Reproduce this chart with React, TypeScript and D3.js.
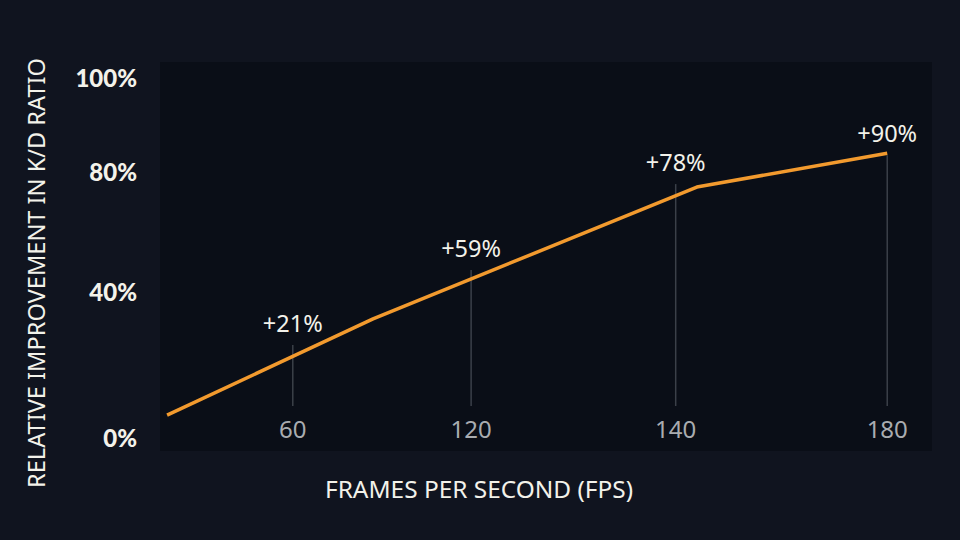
import React from "react";
import * as d3 from "d3";

// ---- data ----
const fpsTicks = [60, 120, 140, 180];
const yTicks = [0, 40, 80, 100];
const lineFps = [31.6, 87, 144, 180];
const lineValues = [6.3, 32.6, 75, 84];
const annotationFps = [60, 120, 140, 180];
const annotationLabels = ["+21%", "+59%", "+78%", "+90%"];
const annotationTops = [25.5, 47.3, 76, 83.6];

const W = 960;
const H = 540;
const plot = { left: 160, top: 62, right: 932, bottom: 451 };

export default function App() {
  const pw = plot.right - plot.left;
  const ph = plot.bottom - plot.top;
  const x = d3
    .scaleLinear()
    .domain([30, ...fpsTicks])
    .range([0, 0.172, 0.403, 0.668, 0.942].map((f) => plot.left + f * pw));
  const y = d3
    .scaleLinear()
    .domain(yTicks)
    .range([0.033, 0.409, 0.717, 0.959].map((f) => plot.bottom - f * ph));

  const pts: [number, number][] = lineFps.map((f, i) => [x(f), y(lineValues[i])]);
  const line = d3.line();
  const guideBottom = 406;
  const textColor = "#f3f2ea";
  const font = "Lato, 'Open Sans', sans-serif";
  const font2 = "'Noto Sans', 'Open Sans', sans-serif";

  return (
    <svg
      width={W}
      height={H}
      style={{ position: "fixed", left: 0, top: 0, display: "block" }}
    >
      <rect x={0} y={0} width={W} height={H} fill="#10141f" />
      <rect
        x={plot.left}
        y={plot.top}
        width={pw}
        height={ph}
        fill="#0a0e17"
      />
      {annotationFps.map((f, i) => (
        <line
          key={"g" + i}
          x1={x(f)}
          x2={x(f)}
          y1={guideBottom}
          y2={y(annotationTops[i])}
          stroke="#3b4049"
          strokeWidth={1.5}
        />
      ))}
      <path
        d={line(pts) || ""}
        fill="none"
        stroke="#f29a2e"
        strokeWidth={3.5}
        strokeLinejoin="round"
      />
      {annotationFps.map((f, i) => (
        <text
          key={"a" + i}
          x={x(f)}
          y={y(annotationTops[i]) - 13}
          textAnchor="middle"
          fill={textColor}
          fontFamily={font2}
          fontSize={23.5}
        >
          {annotationLabels[i]}
        </text>
      ))}
      {fpsTicks.map((f) => (
        <text
          key={"x" + f}
          x={x(f)}
          y={438}
          textAnchor="middle"
          fill="#a9acb0"
          fontFamily={font2}
          fontSize={24}
        >
          {f}
        </text>
      ))}
      {yTicks.map((v) => (
        <text
          key={"y" + v}
          x={137}
          y={y(v)}
          dy="0.36em"
          textAnchor="end"
          fill={textColor}
          fontFamily={font}
          fontWeight={900}
          fontSize={24}
        >
          {v}%
        </text>
      ))}
      <text
        x={479}
        y={498}
        textAnchor="middle"
        fill={textColor}
        fontFamily={font2}
        fontSize={24}
        textLength={308}
        lengthAdjust="spacingAndGlyphs"
      >
        FRAMES PER SECOND (FPS)
      </text>
      <text
        transform={`translate(45,273) rotate(-90)`}
        textAnchor="middle"
        fill={textColor}
        fontFamily={font2}
        fontSize={24}
        textLength={430}
        lengthAdjust="spacingAndGlyphs"
      >
        RELATIVE IMPROVEMENT IN K/D RATIO
      </text>
    </svg>
  );
}
